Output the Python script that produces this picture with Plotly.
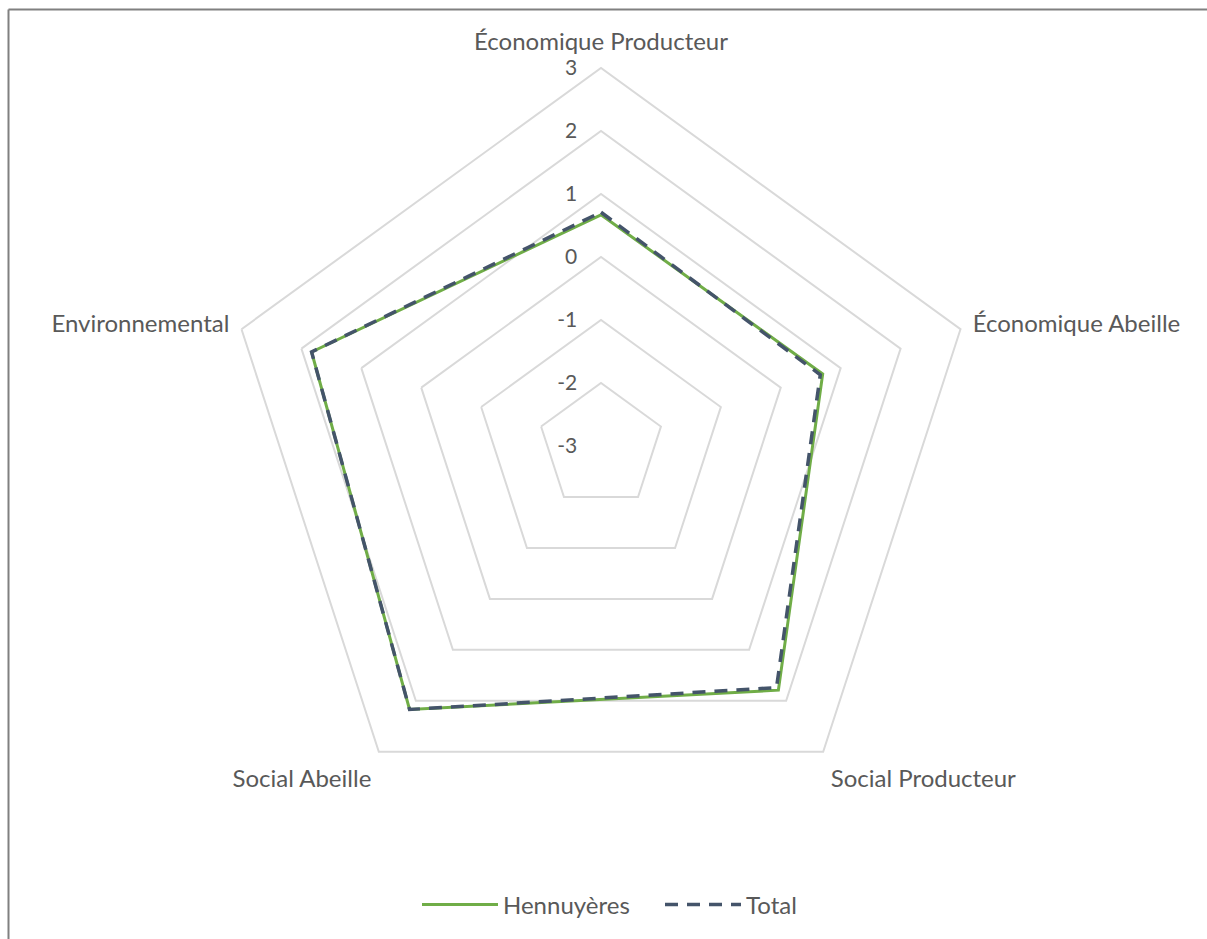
import plotly.graph_objects as go

categories = ["Économique Producteur", "Économique Abeille", "Social Producteur",
              "Social Abeille", "Environnemental"]
hennuyeres = [0.67, 0.70, 1.79, 2.17, 1.83]
total = [0.71, 0.66, 1.74, 2.17, 1.83]
radial_ticks = [-3, -2, -1, 0, 1, 2, 3]
radial_labels = ["-3", "-2", "-1", "0", "1", "2", "3"]

W, H = 1207, 939
cx, cy, R = 601, 446, 378

fig = go.Figure()
fig.add_trace(go.Scatterpolar(
    r=hennuyeres + hennuyeres[:1], theta=categories + categories[:1],
    mode="lines", name="Hennuyères",
    line=dict(color="#70ad47", width=3)))
fig.add_trace(go.Scatterpolar(
    r=total + total[:1], theta=categories + categories[:1],
    mode="lines", name="Total",
    line=dict(color="#44546a", width=3.5, dash="13px,9px")))

fig.update_layout(
    width=W, height=H,
    margin=dict(l=0, r=0, t=0, b=0),
    paper_bgcolor="white", plot_bgcolor="white",
    font=dict(family="Lato, Calibri, sans-serif", size=24, color="#595959"),
    polar=dict(
        domain=dict(x=[(cx - R) / W, (cx + R) / W], y=[(H - cy - R) / H, (H - cy + R) / H]),
        gridshape="linear",
        bgcolor="white",
        radialaxis=dict(range=[-3, 3], tickvals=radial_ticks, ticktext=radial_labels,
                        angle=90, tickangle=90,
                        showline=False, gridcolor="#d9d9d9", gridwidth=2,
                        ticks="outside", ticklen=16, tickcolor="rgba(0,0,0,0)",
                        side="counterclockwise",
                        tickfont=dict(size=21, color="#595959")),
        angularaxis=dict(rotation=90, direction="clockwise", showgrid=False,
                         showline=True, linecolor="#d9d9d9", linewidth=2,
                         ticks="outside", ticklen=7, tickcolor="rgba(0,0,0,0)",
                         tickfont=dict(size=24, color="#595959")),
    ),
    legend=dict(orientation="h", x=417 / W, xanchor="left", y=(H - 905) / H, yanchor="middle",
                itemwidth=76, entrywidth=152, font=dict(size=24, color="#595959")),
    shapes=[
        dict(type="line", xref="paper", yref="paper", x0=8.5 / W, x1=1.02,
             y0=(H - 9.5) / H, y1=(H - 9.5) / H, line=dict(color="#808080", width=2)),
        dict(type="line", xref="paper", yref="paper", x0=8.5 / W, x1=8.5 / W,
             y0=-0.02, y1=(H - 9.5) / H, line=dict(color="#808080", width=2)),
    ],
)

fig.write_html("out.html")
